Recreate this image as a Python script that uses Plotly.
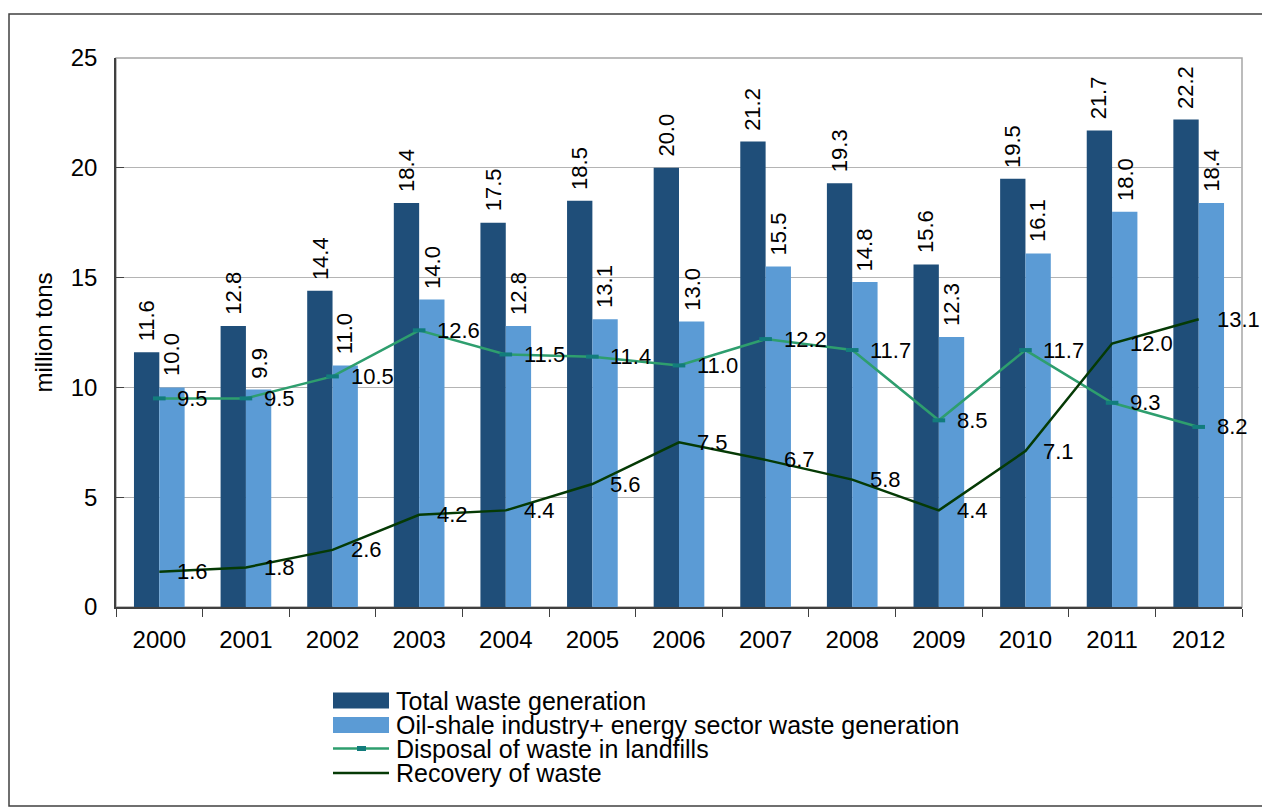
import plotly.graph_objects as go

years = ["2000", "2001", "2002", "2003", "2004", "2005", "2006",
         "2007", "2008", "2009", "2010", "2011", "2012"]
total_waste = [11.6, 12.8, 14.4, 18.4, 17.5, 18.5, 20.0, 21.2, 19.3, 15.6, 19.5, 21.7, 22.2]
oil_shale_energy = [10.0, 9.9, 11.0, 14.0, 12.8, 13.1, 13.0, 15.5, 14.8, 12.3, 16.1, 18.0, 18.4]
landfill_disposal = [9.5, 9.5, 10.5, 12.6, 11.5, 11.4, 11.0, 12.2, 11.7, 8.5, 11.7, 9.3, 8.2]
waste_recovery = [1.6, 1.8, 2.6, 4.2, 4.4, 5.6, 7.5, 6.7, 5.8, 4.4, 7.1, 12.0, 13.1]
series_names = ["Total waste generation",
                "Oil-shale industry+ energy sector waste generation",
                "Disposal of waste in landfills",
                "Recovery of waste"]
y_title = "million tons"

C_DARK = "#1F4E79"
C_LIGHT = "#5B9BD5"
C_LAND = "#2E9E6E"
C_LAND_MK = "#127C7C"
C_REC = "#053A05"
FONT = "Liberation Sans, Arial, sans-serif"

# page has an 8px body margin; figure sized to fit inside the window
OFF = 8
W, H = 1262, 802
L, R, T, B = 108, 28, 50, 203
PW, PH = W - L - R, H - T - B


def px(x_page):
    return (x_page - OFF - L) / PW


def py(y_page):
    return (H - B - (y_page - OFF)) / PH


fig = go.Figure()
fig.add_trace(go.Bar(x=years, y=total_waste, name=series_names[0],
                     marker=dict(color=C_DARK, line=dict(width=0))))
fig.add_trace(go.Bar(x=years, y=oil_shale_energy, name=series_names[1],
                     marker=dict(color=C_LIGHT, line=dict(width=0))))
fig.add_trace(go.Scatter(x=years, y=landfill_disposal, name=series_names[2],
                         mode="lines+markers",
                         line=dict(color=C_LAND, width=2.5),
                         marker=dict(symbol="line-ew", size=9,
                                     line=dict(color=C_LAND_MK, width=4))))
fig.add_trace(go.Scatter(x=years, y=waste_recovery, name=series_names[3],
                         mode="lines", line=dict(color=C_REC, width=2.5)))

annotations = []
# bar value labels (rotated); category axis annotations use category index
for vals, shift in ((total_waste, -12.7), (oil_shale_energy, 12.7)):
    for i, v in enumerate(vals):
        annotations.append(dict(x=i, y=v, xref="x", yref="y", text=f"{v:.1f}",
                                showarrow=False, textangle=-90, xanchor="center",
                                yanchor="bottom", xshift=shift, yshift=9,
                                font=dict(family=FONT, size=22, color="black")))
# line value labels
for vals in (landfill_disposal, waste_recovery):
    for i, v in enumerate(vals):
        annotations.append(dict(x=i, y=v, xref="x", yref="y", text=f"{v:.1f}",
                                showarrow=False, xanchor="left", yanchor="middle",
                                xshift=16, yshift=0,
                                font=dict(family=FONT, size=22, color="black")))
# y axis title
annotations.append(dict(x=px(43), y=0.5, xref="paper", yref="paper", text=y_title,
                        showarrow=False, textangle=-90, xanchor="center", yanchor="middle",
                        font=dict(family=FONT, size=24, color="black")))

# custom legend
shapes = []
leg_x0, leg_x1, leg_tx = 333, 389, 394
rows = [700.5, 725, 748.5, 773]
shapes.append(dict(type="rect", xref="paper", yref="paper", x0=px(leg_x0), x1=px(leg_x1),
                   y0=py(708.5), y1=py(692.5), fillcolor=C_DARK, line=dict(width=0)))
shapes.append(dict(type="rect", xref="paper", yref="paper", x0=px(leg_x0), x1=px(leg_x1),
                   y0=py(733), y1=py(717), fillcolor=C_LIGHT, line=dict(width=0)))
shapes.append(dict(type="line", xref="paper", yref="paper", x0=px(leg_x0), x1=px(leg_x1),
                   y0=py(rows[2]), y1=py(rows[2]), line=dict(color=C_LAND, width=2.5)))
shapes.append(dict(type="rect", xref="paper", yref="paper", x0=px(357), x1=px(366),
                   y0=py(rows[2] + 2.5), y1=py(rows[2] - 2.5), fillcolor=C_LAND_MK,
                   line=dict(width=0)))
shapes.append(dict(type="line", xref="paper", yref="paper", x0=px(leg_x0), x1=px(leg_x1),
                   y0=py(rows[3]), y1=py(rows[3]), line=dict(color=C_REC, width=2.5)))
for name, ry in zip(series_names, rows):
    annotations.append(dict(x=px(leg_tx), y=py(ry), xref="paper", yref="paper", text=name,
                            showarrow=False, xanchor="left", yanchor="middle",
                            font=dict(family=FONT, size=25, color="black")))

# plot area border (gray) and outer frame
shapes.append(dict(type="rect", xref="paper", yref="paper", x0=0, x1=1, y0=0, y1=1,
                   line=dict(color="#A6A6A6", width=1.5), layer="below"))
shapes.append(dict(type="rect", xref="paper", yref="paper", x0=px(9), x1=px(1265),
                   y0=py(806), y1=py(14), line=dict(color="#404040", width=1.5)))

fig.update_layout(
    width=W, height=H,
    margin=dict(l=L, r=R, t=T, b=B),
    paper_bgcolor="white", plot_bgcolor="white",
    barmode="group", bargap=0.415, bargroupgap=0,
    showlegend=False,
    font=dict(family=FONT, size=22, color="black"),
    annotations=annotations, shapes=shapes,
    xaxis=dict(type="category", range=[-0.5, len(years) - 0.5], autorange=False,
               showline=True, linecolor="#404040", linewidth=1.5,
               ticks="outside", tickson="boundaries", ticklen=8, tickcolor="#404040",
               showgrid=False, tickangle=0,
               tickfont=dict(family=FONT, size=24, color="black"),
               ticklabelstandoff=10),
    yaxis=dict(range=[0, 25], autorange=False, dtick=5, showline=True,
               linecolor="#404040", linewidth=1.5,
               ticks="inside", ticklen=8, tickcolor="#404040",
               showgrid=True, gridcolor="#B4B4B4", gridwidth=1.2, zeroline=False,
               tickfont=dict(family=FONT, size=24, color="black"),
               ticklabelstandoff=12),
)

fig.write_html("out.html")
